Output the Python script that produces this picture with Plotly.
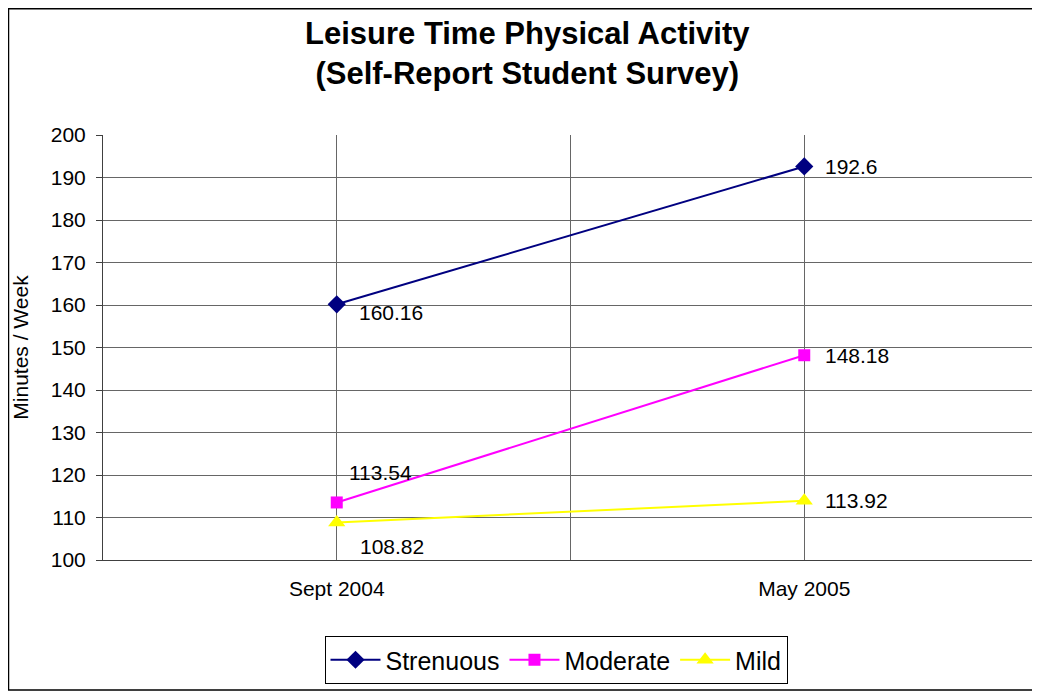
import plotly.graph_objects as go

categories = ["Sept 2004", "May 2005"]
strenuous = [160.16, 192.6]
moderate = [113.54, 148.18]
mild = [108.82, 113.92]
y_ticks = [100, 110, 120, 130, 140, 150, 160, 170, 180, 190, 200]

FONT = "Liberation Sans, Arial, sans-serif"
xpos = [0, 1]

fig = go.Figure()
series = [
    ("Strenuous", strenuous, "#000080", "diamond", 14),
    ("Moderate", moderate, "#FF00FF", "square", 12),
    ("Mild", mild, "#FFFF00", "triangle-up", 15),
]
for name, vals, col, sym, sz in series:
    fig.add_trace(go.Scatter(
        x=xpos, y=vals, name=name, mode="lines+markers",
        line=dict(color=col, width=2),
        marker=dict(symbol=sym, size=sz, color=col),
    ))

# data labels: (series values, per-point shifts)
label_specs = [
    (strenuous, [(20, -8), (19, 0)]),
    (moderate, [(10, 30), (19, 0)]),
    (mild, [(21, -24), (19, 0)]),
]
for vals, shifts in label_specs:
    for i, v in enumerate(vals):
        fig.add_annotation(
            x=xpos[i], y=v, xref="x", yref="y", text=f"{v:g}",
            showarrow=False, xanchor="left", yanchor="middle",
            xshift=shifts[i][0], yshift=shifts[i][1],
            font=dict(family=FONT, size=21, color="black"),
        )

# title
fig.add_annotation(
    xref="paper", yref="paper", x=(527 - 103) / 935, y=(560 - 54) / 425,
    xanchor="center", yanchor="middle", showarrow=False,
    text="<b>Leisure Time Physical Activity<br>(Self-Report Student Survey)</b>",
    font=dict(family=FONT, size=31, color="black"),
)

# outer chart frame (page body adds an 8px offset)
fig.add_shape(type="rect", xref="paper", yref="paper",
              x0=-94.5 / 935, x1=1.0,
              y0=(560 - 690) / 425, y1=(560 - 8.7) / 425,
              line=dict(color="black", width=1.5), layer="above")

fig.update_layout(
    width=1032, height=684,
    margin=dict(l=95, r=2, t=127, b=132),
    paper_bgcolor="white", plot_bgcolor="white",
    font=dict(family=FONT, color="black"),
    showlegend=True,
    legend=dict(
        orientation="h", x=(556 - 103) / 935, xanchor="center",
        y=(560 - 660) / 425, yanchor="middle",
        bordercolor="black", borderwidth=1, bgcolor="white",
        font=dict(family=FONT, size=25, color="black"),
        itemwidth=50,
    ),
    xaxis=dict(
        range=[-0.5, 1.5], tickvals=[0, 0.5, 1],
        ticktext=[categories[0], "", categories[1]],
        showgrid=True, gridcolor="#666666", gridwidth=1,
        showline=True, linecolor="#404040", linewidth=1,
        ticks="", zeroline=False, ticklabelstandoff=10,
        automargin=False,
        tickfont=dict(family=FONT, size=21, color="black"),
    ),
    yaxis=dict(
        range=[100, 200], tickvals=y_ticks,
        showgrid=True, gridcolor="#666666", gridwidth=1,
        showline=True, linecolor="#404040", linewidth=1,
        ticks="outside", ticklen=6, tickcolor="#404040",
        zeroline=False, ticklabelstandoff=6, automargin=False,
        tickfont=dict(family=FONT, size=21, color="black"),
        title=dict(text="Minutes / Week", standoff=16,
                   font=dict(family=FONT, size=21, color="black")),
    ),
)

fig.write_html("out.html")
